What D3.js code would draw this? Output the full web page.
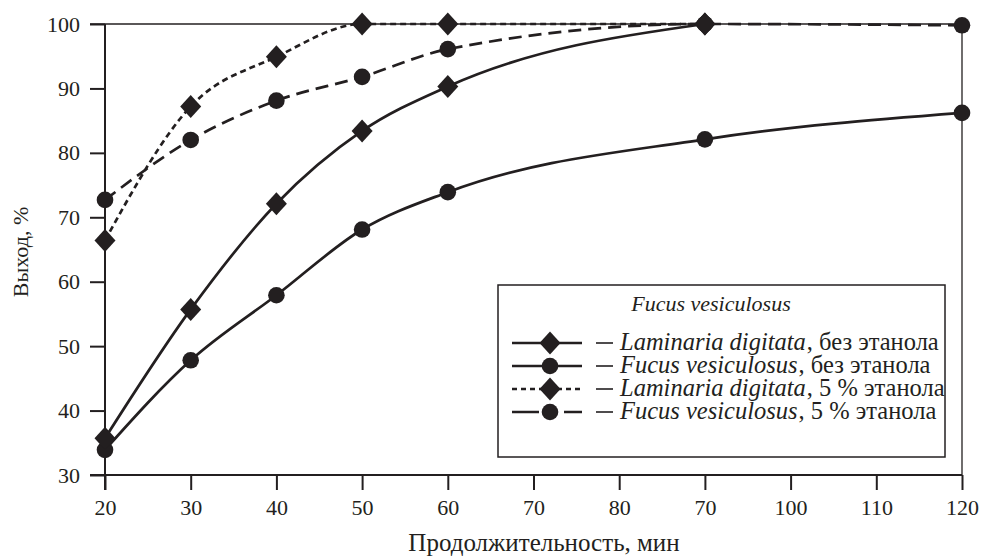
<!DOCTYPE html>
<html><head><meta charset="utf-8">
<script src="https://cdn.jsdelivr.net/npm/d3@7"></script>
<style>
html,body{margin:0;padding:0;background:#fff;}
text{font-family:"Liberation Serif","Times New Roman",serif;fill:#231f20;}
</style></head>
<body><svg id="c" width="981" height="558"></svg>
<script>
// ---- data ----
const xTickValues = [20,30,40,50,60,70,80,90,100,110,120];
const xTickLabels = ["20","30","40","50","60","70","80","70","100","110","120"]; // labels as printed in the reference
const yTickValues = [30,40,50,60,70,80,90,100];
// axis slots at which the measurements are placed (the 70-min points sit at the slot printed "70", third from right)
const timePos = [20,30,40,50,60,90,120];
const lamNoEth  = [35.7,55.7,72.1,83.4,90.3,100];
const fucNoEth  = [33.9,47.8,57.9,68.1,73.9,82.1,86.2];
const lam5Eth   = [66.4,87.2,94.9,100,100,100];
const fuc5Eth   = [72.7,82.0,88.1,91.8,96.1,100,99.8];
const legendTitle = "Fucus vesiculosus";
const seriesNames = [
  ["Laminaria digitata", ", без этанола"],
  ["Fucus vesiculosus", ", без этанола"],
  ["Laminaria digitata", ", 5 % этанола"],
  ["Fucus vesiculosus", ", 5 % этанола"]
];
const xTitle = "Продолжительность,  мин";
const yTitle = "Выход,  %";

// ---- drawing ----
const svg = d3.select("#c");
const ink = "#231f20";
const x = d3.scaleLinear().domain([20,120]).range([105,962]);
const y = d3.scaleLinear().domain([30,100]).range([475,24]);

const series = [
  {vals: lamNoEth, dash: null, marker: "diamond"},
  {vals: fucNoEth, dash: null, marker: "circle"},
  {vals: lam5Eth, dash: "6,4", marker: "diamond"},
  {vals: fuc5Eth, dash: "13,7", marker: "circle"}
];

// frame top & right (thin)
svg.append("line").attr("x1",90).attr("x2",x(120)).attr("y1",y(100)).attr("y2",y(100))
  .attr("stroke",ink).attr("stroke-width",1.3);
svg.append("line").attr("x1",x(120)).attr("x2",x(120)).attr("y1",y(100)).attr("y2",y(30))
  .attr("stroke",ink).attr("stroke-width",1.3);

// axes
const xAxis = d3.axisBottom(x).tickValues(xTickValues).tickSize(15)
  .tickFormat((d,i)=>xTickLabels[i]);
const gx = svg.append("g").attr("transform",`translate(0,${y(30)})`).call(xAxis);
gx.select(".domain").attr("d",`M90,0H${x(120)}`).attr("stroke",ink).attr("stroke-width",2);
gx.selectAll(".tick line").attr("stroke",ink).attr("stroke-width",2);
gx.selectAll(".tick text").attr("font-size",22).attr("y",40).attr("dy",null).style("fill",ink);

const yAxis = d3.axisLeft(y).tickValues(yTickValues).tickSize(15).tickPadding(10);
const gy = svg.append("g").attr("transform",`translate(${x(20)},0)`).call(yAxis);
gy.select(".domain").attr("d",`M0,${y(100)}V${y(30)+15}`).attr("stroke",ink).attr("stroke-width",2);
gy.selectAll(".tick line").attr("stroke",ink).attr("stroke-width",2);
gy.selectAll(".tick text").attr("font-size",22).style("fill",ink);
svg.selectAll(".tick text").attr("font-family","'Liberation Serif',serif");

// titles
svg.append("text").attr("x",544).attr("y",551).attr("text-anchor","middle")
  .attr("font-size",25).text(xTitle);
svg.append("text").attr("transform","translate(28,252) rotate(-90)").attr("text-anchor","middle")
  .attr("font-size",22).text(yTitle);

// lines
const line = d3.line().x(d=>x(d[0])).y(d=>y(d[1])).curve(d3.curveMonotoneX);
series.forEach(s=>{
  const pts = s.vals.map((v,i)=>[timePos[i],v]);
  s.pts = pts;
  svg.append("path").attr("d",line(pts)).attr("fill","none").attr("stroke",ink)
    .attr("stroke-width",2.7).attr("stroke-dasharray",s.dash);
});

function diamond(g,cx,cy){
  g.append("path").attr("d",`M${cx},${cy-11.5}L${cx+10.5},${cy}L${cx},${cy+11.5}L${cx-10.5},${cy}Z`).attr("fill",ink);
}
function circle(g,cx,cy){
  g.append("circle").attr("cx",cx).attr("cy",cy).attr("r",8.3).attr("fill",ink);
}
// circles first, diamonds on top
[1,3,0,2].forEach(k=>{
  const s = series[k];
  s.pts.forEach(p=>{
    if(s.marker==="circle") circle(svg,x(p[0]),y(p[1])); else diamond(svg,x(p[0]),y(p[1]));
  });
});

// legend
const lg = svg.append("g");
lg.append("rect").attr("x",498).attr("y",285).attr("width",447).attr("height",172)
  .attr("fill","#fff").attr("stroke",ink).attr("stroke-width",1.5);
lg.append("text").attr("x",711).attr("y",311).attr("text-anchor","middle")
  .attr("font-size",22).attr("font-style","italic").text(legendTitle);
const rowY = [343,366,389,412];
const legDash = [null,null,"5,4","27,25"];
series.forEach((s,i)=>{
  const cy = rowY[i];
  lg.append("line").attr("x1",512).attr("x2",582).attr("y1",cy).attr("y2",cy)
    .attr("stroke",ink).attr("stroke-width",2.6).attr("stroke-dasharray",legDash[i]);
  if(s.marker==="circle") circle(lg,550,cy); else diamond(lg,550,cy);
  lg.append("line").attr("x1",596).attr("x2",613).attr("y1",cy).attr("y2",cy)
    .attr("stroke",ink).attr("stroke-width",1.6);
  const t1 = lg.append("text").attr("x",620).attr("y",cy+7).attr("font-size",24.5)
    .attr("font-style","italic").text(seriesNames[i][0]);
  const w = t1.node().getComputedTextLength();
  lg.append("text").attr("x",620+w+1).attr("y",cy+7).attr("font-size",24.5)
    .text(seriesNames[i][1]);
});
</script></body></html>
